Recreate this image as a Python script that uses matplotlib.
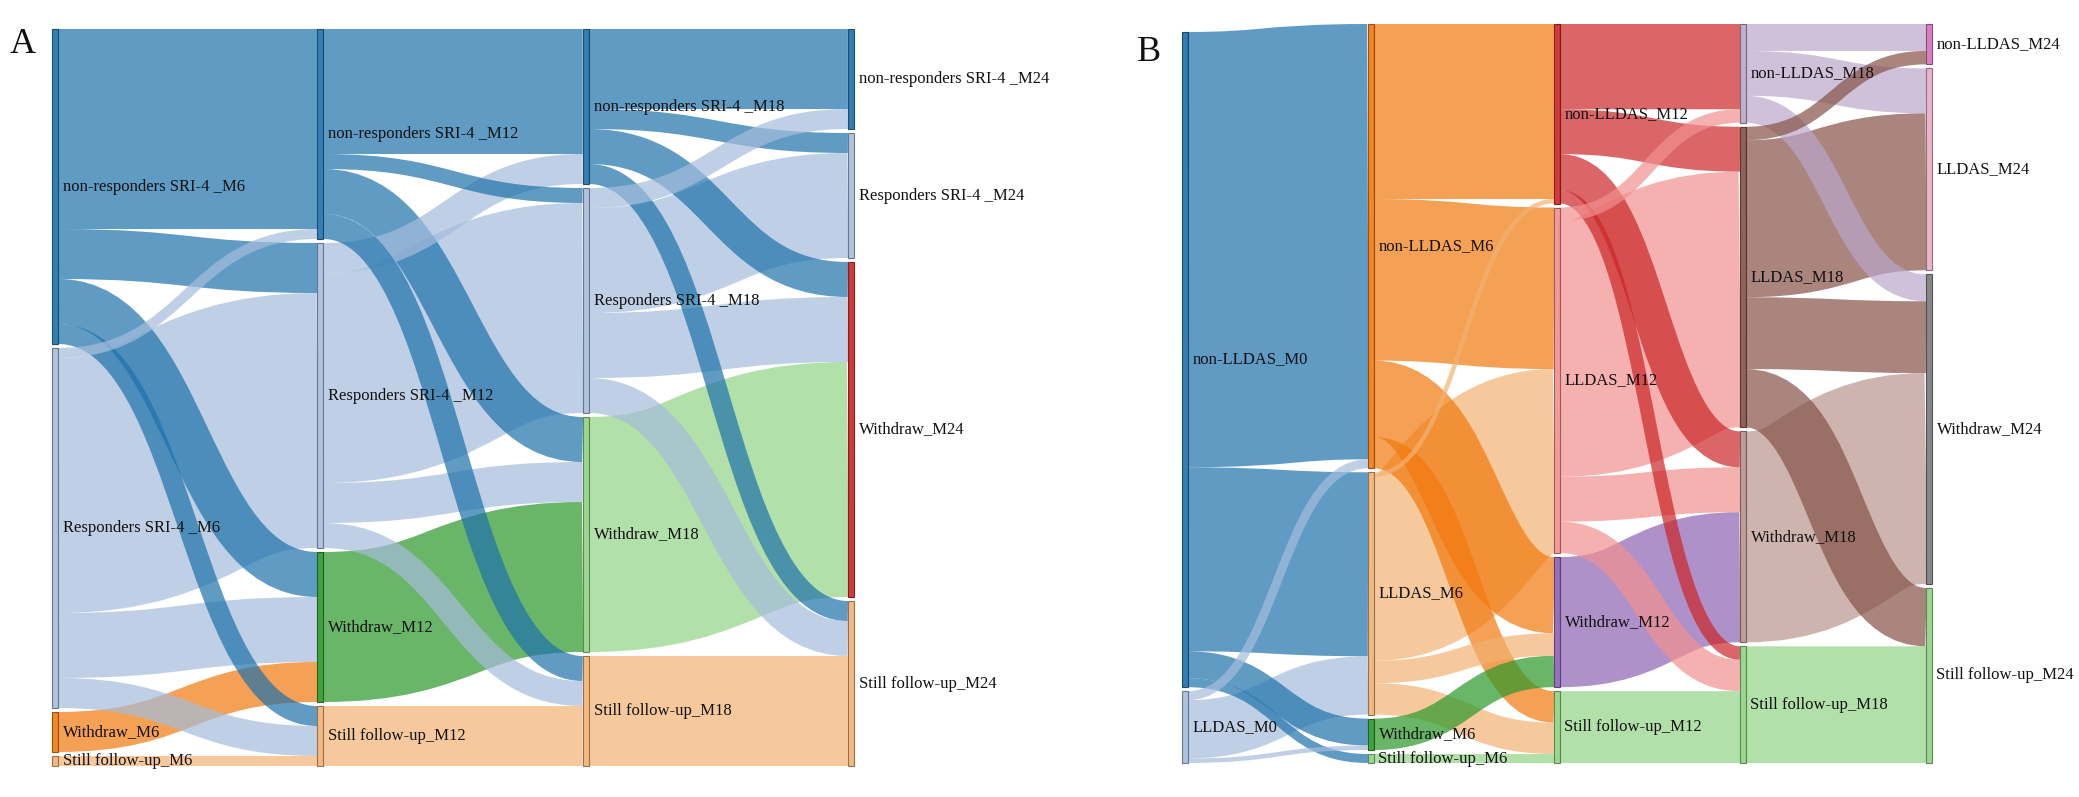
import matplotlib
matplotlib.use('Agg')
import matplotlib.pyplot as plt
from matplotlib.path import Path
from matplotlib.patches import PathPatch, Rectangle
from matplotlib.colors import to_rgb

W, H, DPI = 2079, 797, 100

# ---- panel A : SRI-4 response ----
a_nodes = [
    ["non-responders SRI-4 _M6", "Responders SRI-4 _M6", "Withdraw_M6", "Still follow-up_M6"],
    ["non-responders SRI-4 _M12", "Responders SRI-4 _M12", "Withdraw_M12", "Still follow-up_M12"],
    ["non-responders SRI-4 _M18", "Responders SRI-4 _M18", "Withdraw_M18", "Still follow-up_M18"],
    ["non-responders SRI-4 _M24", "Responders SRI-4 _M24", "Withdraw_M24", "Still follow-up_M24"],
]
a_colors = [
    ["#1f77b4", "#aec7e8", "#ff7f0e", "#ffbb78"],
    ["#1f77b4", "#aec7e8", "#2ca02c", "#ffbb78"],
    ["#1f77b4", "#aec7e8", "#98df8a", "#ffbb78"],
    ["#1f77b4", "#aec7e8", "#d62728", "#ffbb78"],
]
# patients moving from one visit to the next (rows = from, cols = to)
a_m6_m12 = [[40, 10, 9, 4], [2, 51, 13, 6], [0, 0, 8, 0], [0, 0, 0, 2]]
a_m12_m18 = [[25, 3, 9, 5], [6, 42, 8, 5], [0, 0, 30, 0], [0, 0, 0, 12]]
a_m18_m24 = [[16, 4, 7, 4], [4, 21, 13, 7], [0, 0, 47, 0], [0, 0, 0, 22]]

# ---- panel B : LLDAS ----
b_nodes = [
    ["non-LLDAS_M0", "LLDAS_M0"],
    ["non-LLDAS_M6", "LLDAS_M6", "Withdraw_M6", "Still follow-up_M6"],
    ["non-LLDAS_M12", "LLDAS_M12", "Withdraw_M12", "Still follow-up_M12"],
    ["non-LLDAS_M18", "LLDAS_M18", "Withdraw_M18", "Still follow-up_M18"],
    ["non-LLDAS_M24", "LLDAS_M24", "Withdraw_M24", "Still follow-up_M24"],
]
b_colors = [
    ["#1f77b4", "#aec7e8"],
    ["#ff7f0e", "#ffbb78", "#2ca02c", "#98df8a"],
    ["#d62728", "#ff9896", "#9467bd", "#98df8a"],
    ["#c5b0d5", "#8c564b", "#c49c94", "#98df8a"],
    ["#e377c2", "#f7b6d2", "#7f7f7f", "#98df8a"],
]
b_m0_m6 = [[97, 41, 6, 2], [2, 13, 1, 0]]
b_m6_m12 = [[39, 36, 17, 7], [1, 41, 5, 7], [0, 0, 7, 0], [0, 0, 0, 2]]
b_m12_m18 = [[19, 10, 8, 3], [3, 57, 10, 7], [0, 0, 29, 0], [0, 0, 0, 16]]
b_m18_m24 = [[6, 10, 6, 0], [3, 35, 16, 13], [0, 0, 47, 0], [0, 0, 0, 26]]


def tone(c, k=0.95):
    # the scanned figure is a touch darker than the raw palette
    r, g, b = to_rgb(c)
    return (r * k, g * k, b * k)


def sankey(ax, names, colors, flows, x0, dx, nw, top, bottom, pad):
    ncol = len(names)
    # node values = max(in, out)
    vals = []
    for c in range(ncol):
        v = []
        for i in range(len(names[c])):
            out = sum(flows[c][i]) if c < ncol - 1 else 0
            inn = sum(row[i] for row in flows[c - 1]) if c > 0 else 0
            v.append(max(out, inn))
        vals.append(v)
    ky = min((bottom - top - (len(v) - 1) * pad) / sum(v) for v in vals)

    ypos = []
    for c in range(ncol):
        h = sum(vals[c]) * ky + (len(vals[c]) - 1) * pad
        y = bottom - h
        ys = []
        for v in vals[c]:
            ys.append(y)
            y += v * ky + pad
        ypos.append(ys)

    # links
    links = []
    for c in range(ncol - 1):
        m = flows[c]
        out_cur = list(ypos[c])
        in_cur = list(ypos[c + 1])
        # target offsets: incoming sorted by source index
        tgt_y = {}
        for j in range(len(names[c + 1])):
            for i in range(len(names[c])):
                if m[i][j] > 0:
                    w = m[i][j] * ky
                    tgt_y[(i, j)] = in_cur[j] + w / 2
                    in_cur[j] += w
        xs = x0 + c * dx + nw
        xt = x0 + (c + 1) * dx
        xm = (xs + xt) / 2
        for i in range(len(names[c])):
            for j in range(len(names[c + 1])):
                if m[i][j] <= 0:
                    continue
                w = m[i][j] * ky
                ys = out_cur[i] + w / 2
                out_cur[i] += w
                yt = tgt_y[(i, j)]
                p = Path([(xs, ys), (xm, ys), (xm, yt), (xt, yt)],
                         [Path.MOVETO, Path.CURVE4, Path.CURVE4, Path.CURVE4])
                links.append((w, p, colors[c][i]))
    # wide links underneath, thin ones on top
    links.sort(key=lambda t: -t[0])
    for w, p, col in links:
        ax.add_patch(PathPatch(p, fill=False, edgecolor=tone(col),
                               alpha=0.7, lw=w * 72 / DPI,
                               capstyle='butt', zorder=1))
    # nodes and labels
    for c in range(ncol):
        x = x0 + c * dx
        for i, name in enumerate(names[c]):
            h = vals[c][i] * ky
            y = ypos[c][i]
            ax.add_patch(Rectangle((x, y), nw, h, facecolor=tone(colors[c][i]),
                                   edgecolor=tone(colors[c][i], 0.55), lw=0.8,
                                   alpha=0.9, zorder=2))
            ax.text(x + nw + 5, y + h / 2, name, va='center', ha='left',
                    fontsize=12, family='Liberation Serif', color='#111111',
                    zorder=3)


fig = plt.figure(figsize=(W / DPI, H / DPI), dpi=DPI)
ax = fig.add_axes([0, 0, 1, 1])
ax.set_xlim(0, W)
ax.set_ylim(H, 0)
ax.axis('off')

a_flows = [a_m6_m12, a_m12_m18, a_m18_m24]
b_flows = [b_m0_m6, b_m6_m12, b_m12_m18, b_m18_m24]
sankey(ax, a_nodes, a_colors, a_flows, 52, 265.3, 6, 29, 766, 4)
sankey(ax, b_nodes, b_colors, b_flows, 1182, 186, 5.5, 24, 763, 4)

ax.text(10, 53, "A", fontsize=26, family='Liberation Serif', va='baseline', color='#111111')
ax.text(1137, 61, "B", fontsize=26, family='Liberation Serif', va='baseline', color='#111111')

fig.savefig('out.png', dpi=DPI)
